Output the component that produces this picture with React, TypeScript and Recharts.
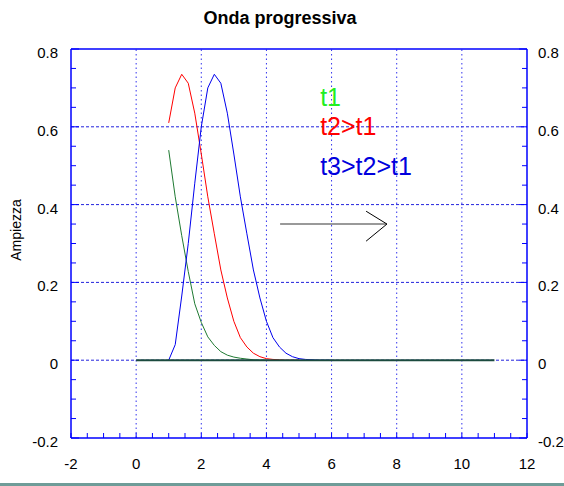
import React from "react";
import {
  LineChart,
  Line,
  XAxis,
  YAxis,
  ReferenceLine,
  ReferenceDot,
} from "recharts";

// t1: pulse near x = 1
const t1X = [1, 1.2, 1.4, 1.6, 1.8, 2, 2.2, 2.4, 2.6, 2.8, 3, 3.2, 3.4, 3.6, 3.8, 4];
const t1Y = [0.54, 0.42, 0.32, 0.228, 0.145, 0.097, 0.06, 0.038, 0.022, 0.013, 0.008, 0.005, 0.003, 0.001, 0, 0];

// t2 > t1
const t2X = [1, 1.2, 1.4, 1.6, 1.8, 2, 2.2, 2.4, 2.6, 2.8, 3, 3.2, 3.4, 3.6, 3.8, 4, 4.2, 4.4, 4.6, 4.8, 5];
const t2Y = [0.61, 0.7, 0.735, 0.712, 0.635, 0.53, 0.42, 0.325, 0.232, 0.16, 0.1, 0.058, 0.034, 0.018, 0.009, 0.004, 0.002, 0.001, 0, 0, 0];

// t3 > t2 > t1
const t3X = [1, 1.2, 1.4, 1.6, 1.8, 2, 2.2, 2.4, 2.6, 2.8, 3, 3.2, 3.4, 3.6, 3.8, 4, 4.2, 4.4, 4.6, 4.8, 5, 5.2, 5.4, 5.6, 5.8, 6];
const t3Y = [0, 0.04, 0.165, 0.3, 0.455, 0.6, 0.7, 0.735, 0.712, 0.635, 0.53, 0.42, 0.325, 0.232, 0.16, 0.1, 0.058, 0.034, 0.018, 0.009, 0.004, 0.002, 0.001, 0, 0, 0];

// zero line
const baseX = [0, 11];
const baseY = [0, 0];

const xTicks = [-2, -1.5, -1, -0.5, 0, 0.5, 1, 1.5, 2, 2.5, 3, 3.5, 4, 4.5, 5, 5.5, 6, 6.5, 7, 7.5, 8, 8.5, 9, 9.5, 10, 10.5, 11, 11.5, 12];
const xLabels = [-2, 0, 2, 4, 6, 8, 10, 12];
const yTicks = [-0.2, -0.15, -0.1, -0.05, 0, 0.05, 0.1, 0.15, 0.2, 0.25, 0.3, 0.35, 0.4, 0.45, 0.5, 0.55, 0.6, 0.65, 0.7, 0.75, 0.8];
const yLabels = [-0.2, 0, 0.2, 0.4, 0.6, 0.8];
const xGrid = [0, 2, 4, 6, 8, 10];
const yGrid = [0, 0.2, 0.4, 0.6];

const legendText = ["t1", "t2>t1", "t3>t2>t1"];
const legendColor = ["#22ee22", "#ff0000", "#0000dd"];
const legendX = [5.65, 5.65, 5.65];
const legendY = [0.653, 0.578, 0.476];

const arrowShaft = [{ x: 4.42, y: 0.35 }, { x: 7.7, y: 0.35 }];
const arrowHeadTop = [{ x: 7.06, y: 0.383 }, { x: 7.7, y: 0.35 }];
const arrowHeadBottom = [{ x: 7.06, y: 0.306 }, { x: 7.7, y: 0.35 }];

const toData = (xs: number[], ys: number[]) => xs.map((x, i) => ({ x, y: ys[i] }));

const FONT = "Liberation Sans, Arial, Helvetica, sans-serif";
const AXIS = "#0000ff";

const BottomTick = ({ x, y, payload }: any) => {
  const major = xLabels.includes(payload.value);
  return (
    <g>
      <line x1={x} x2={x} y1={y} y2={y - 5} stroke={AXIS} />
      {major && (
        <text x={x} y={y + 31} textAnchor="middle" fontSize={15} fontFamily={FONT} fill="#000">
          {payload.value}
        </text>
      )}
    </g>
  );
};

const TopTick = ({ x, y }: any) => (
  <line x1={x} x2={x} y1={y} y2={y + 5} stroke={AXIS} />
);

const LeftTick = ({ x, y, payload }: any) => {
  const major = yLabels.includes(payload.value);
  return (
    <g>
      <line x1={x} x2={x + (major ? 8 : 5)} y1={y} y2={y} stroke={AXIS} />
      {major && (
        <text x={x - 13} y={y + 9} textAnchor="end" fontSize={15} fontFamily={FONT} fill="#000">
          {payload.value}
        </text>
      )}
    </g>
  );
};

const RightTick = ({ x, y, payload }: any) => {
  const major = yLabels.includes(payload.value);
  return (
    <g>
      <line x1={x} x2={x - (major ? 8 : 5)} y1={y} y2={y} stroke={AXIS} />
      {major && (
        <text x={x + 11} y={y + 9} textAnchor="start" fontSize={15} fontFamily={FONT} fill="#000">
          {payload.value}
        </text>
      )}
    </g>
  );
};

export default function App() {
  return (
    <div style={{ position: "absolute", left: 0, top: 0, width: 564, height: 486, background: "#fff", overflow: "hidden" }}>
      <div
        style={{
          position: "absolute",
          left: 180,
          width: 200,
          top: 8,
          textAlign: "center",
          fontFamily: FONT,
          fontWeight: "bold",
          fontSize: 18,
        }}
      >
        Onda progressiva
      </div>
      <LineChart width={564} height={486} margin={{ top: 39, right: 7, bottom: 0, left: 11 }}>
        <XAxis
          xAxisId="bottom"
          dataKey="x"
          type="number"
          domain={[-2, 12]}
          ticks={xTicks}
          interval={0}
          allowDataOverflow
          height={48}
          tickSize={0}
          tickMargin={0}
          tickLine={false}
          stroke={AXIS}
          strokeWidth={1.5}
          tick={<BottomTick />}
          label={{
            content: () => (
              <text x={290} y={494} textAnchor="middle" fontSize={15} fontFamily={FONT} fill="#000">
                x
              </text>
            ),
          }}
        />
        <XAxis
          xAxisId="top"
          orientation="top"
          type="number"
          domain={[-2, 12]}
          ticks={xTicks}
          interval={0}
          allowDataOverflow
          height={10}
          tickSize={0}
          tickMargin={0}
          tickLine={false}
          stroke={AXIS}
          strokeWidth={1.5}
          tick={<TopTick />}
        />
        <YAxis
          yAxisId="left"
          type="number"
          domain={[-0.2, 0.8]}
          ticks={yTicks}
          interval={0}
          allowDataOverflow
          width={60}
          tickSize={0}
          tickMargin={0}
          tickLine={false}
          stroke={AXIS}
          strokeWidth={1.5}
          tick={<LeftTick />}
          label={{
            content: () => (
              <text
                transform="translate(21,230) rotate(-90)"
                textAnchor="middle"
                fontSize={14}
                fontFamily={FONT}
                fill="#000"
              >
                Ampiezza
              </text>
            ),
          }}
        />
        <YAxis
          yAxisId="right"
          orientation="right"
          type="number"
          domain={[-0.2, 0.8]}
          ticks={yTicks}
          interval={0}
          allowDataOverflow
          width={30}
          tickSize={0}
          tickMargin={0}
          tickLine={false}
          stroke={AXIS}
          strokeWidth={1.5}
          tick={<RightTick />}
        />

        {xGrid.map((v) => (
          <ReferenceLine key={`gx${v}`} xAxisId="bottom" yAxisId="left" x={v} stroke="#3333ee" strokeDasharray="1.5 3" />
        ))}
        {yGrid.map((v) => (
          <ReferenceLine key={`gy${v}`} xAxisId="bottom" yAxisId="left" y={v} stroke="#2222dd" strokeDasharray="3 2" />
        ))}

        <ReferenceLine xAxisId="bottom" yAxisId="left" segment={arrowShaft} stroke="#777" strokeWidth={1.5} />
        <ReferenceLine xAxisId="bottom" yAxisId="left" segment={arrowHeadTop} stroke="#000" strokeWidth={1} />
        <ReferenceLine xAxisId="bottom" yAxisId="left" segment={arrowHeadBottom} stroke="#000" strokeWidth={1} />

        <Line xAxisId="bottom" yAxisId="left" data={toData(t1X, t1Y)} dataKey="y" stroke="#1f7a32" strokeWidth={1} dot={false} isAnimationActive={false} />
        <Line xAxisId="bottom" yAxisId="left" data={toData(t2X, t2Y)} dataKey="y" stroke="#ff0000" strokeWidth={1} dot={false} isAnimationActive={false} />
        <Line xAxisId="bottom" yAxisId="left" data={toData(t3X, t3Y)} dataKey="y" stroke="#0000ee" strokeWidth={1} dot={false} isAnimationActive={false} />
        <Line xAxisId="bottom" yAxisId="left" data={toData(baseX, baseY)} dataKey="y" stroke="#1b4a3e" strokeWidth={2} dot={false} isAnimationActive={false} />

        {legendText.map((t, i) => (
          <ReferenceDot
            key={t}
            xAxisId="bottom"
            yAxisId="left"
            x={legendX[i]}
            y={legendY[i]}
            r={0}
            fill="none"
            stroke="none"
            label={{
              content: (p: any) => (
                <text x={p.viewBox.x} y={p.viewBox.y} fontSize={25} fontFamily={FONT} fill={legendColor[i]}>
                  {t}
                </text>
              ),
            }}
          />
        ))}
      </LineChart>
      <div style={{ position: "absolute", left: 0, top: 483, width: 564, height: 3, background: "#6f9c98" }} />
    </div>
  );
}
